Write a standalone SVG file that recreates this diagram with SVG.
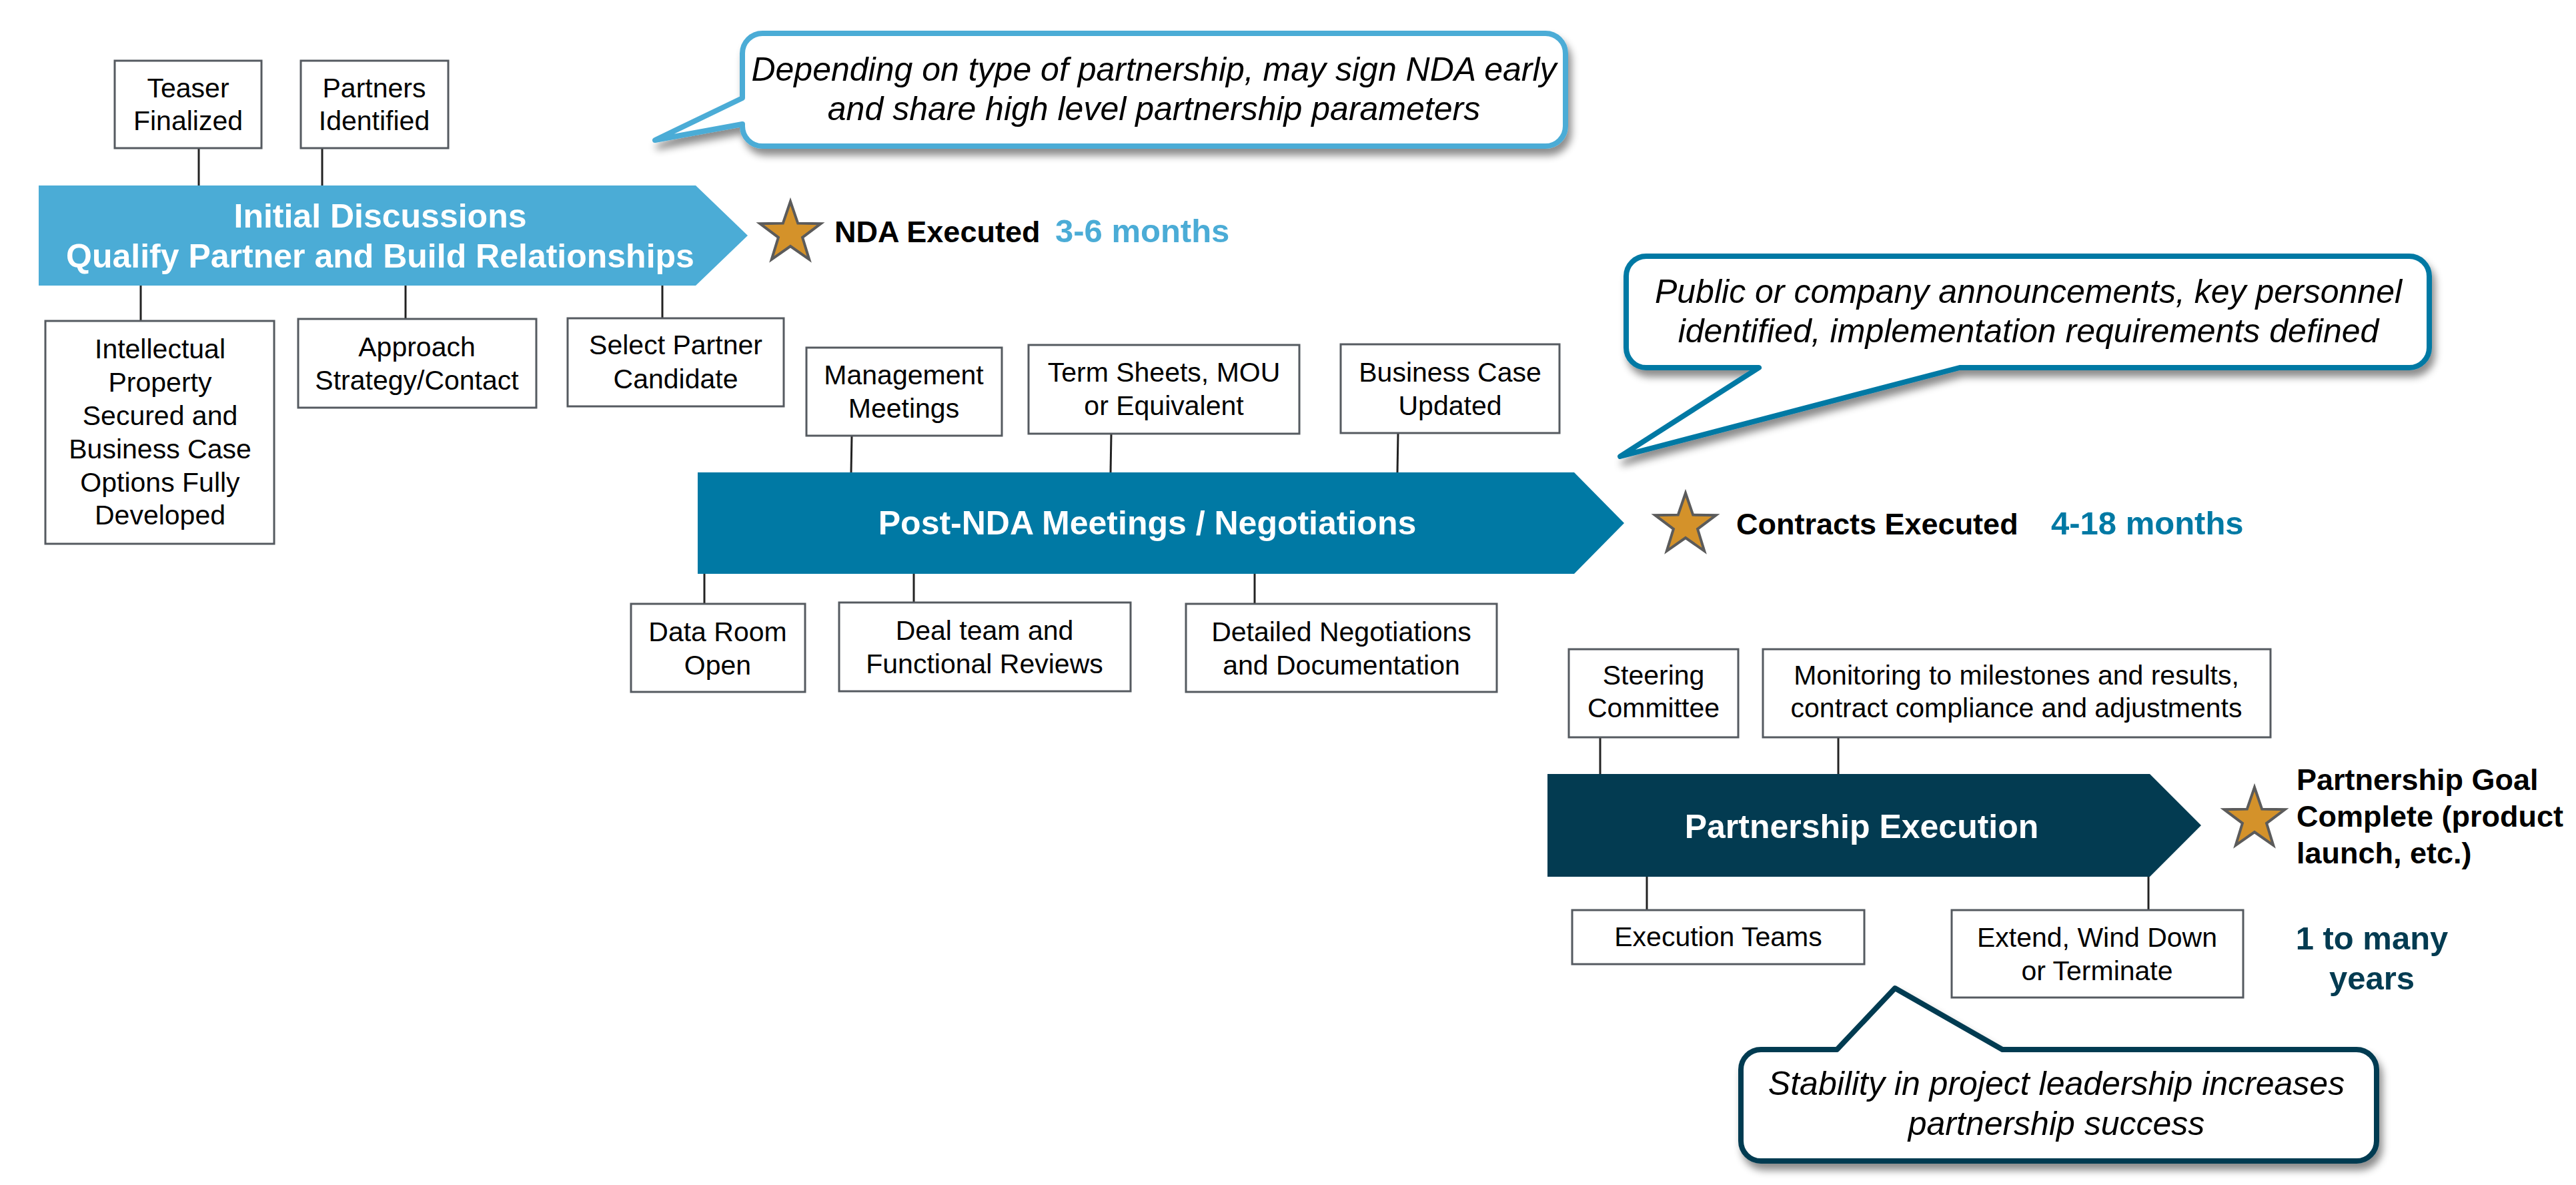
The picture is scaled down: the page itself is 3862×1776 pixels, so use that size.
<svg xmlns="http://www.w3.org/2000/svg" width="3862" height="1776" viewBox="0 0 3862 1776">
<style>
text{font-family:"Liberation Sans",Arial,sans-serif}
.box{fill:#fff;stroke:#555a60;stroke-width:3}
.bt{font-size:41px;fill:#000;text-anchor:middle}
.at{font-size:50px;font-weight:bold;fill:#fff;text-anchor:middle}
.ct{font-size:50px;font-style:italic;fill:#000;text-anchor:middle}
.ms{font-size:45px;font-weight:bold;fill:#000}
.dur{font-size:49px;font-weight:bold}
.conn line{stroke:#222;stroke-width:3}
.star{fill:#d4922a;stroke:#5b5b5b;stroke-width:4;stroke-linejoin:miter}
.call{fill:#fff;stroke-width:8;stroke-linejoin:round;filter:url(#sh)}
</style>
<defs>
<filter id="sh" x="-10%" y="-20%" width="125%" height="160%">
<feDropShadow dx="5" dy="10" stdDeviation="6" flood-color="#000" flood-opacity="0.45"/>
</filter>
<polygon id="starShape" points="0,-48 11.17,-15.37 45.65,-14.83 18.07,5.87 28.21,38.83 0,19 -28.21,38.83 -18.07,5.87 -45.65,-14.83 -11.17,-15.37"/>
</defs>

<g id="connectors" class="conn">
<line x1="298" y1="222" x2="298" y2="278"/>
<line x1="483" y1="222" x2="483" y2="278"/>
<line x1="211" y1="428" x2="211" y2="481"/>
<line x1="608" y1="428" x2="608" y2="478"/>
<line x1="993" y1="428" x2="993" y2="477"/>
<line x1="1277" y1="653" x2="1276" y2="708"/>
<line x1="1666" y1="650" x2="1665" y2="708"/>
<line x1="2096" y1="649" x2="2095" y2="708"/>
<line x1="1056" y1="860" x2="1056" y2="905"/>
<line x1="1370" y1="860" x2="1370" y2="903"/>
<line x1="1881" y1="860" x2="1881" y2="905"/>
<line x1="2399" y1="1105" x2="2399" y2="1160"/>
<line x1="2756" y1="1105" x2="2756" y2="1160"/>
<line x1="2469" y1="1314" x2="2469" y2="1364"/>
<line x1="3221" y1="1314" x2="3221" y2="1364"/>
</g>

<g id="stage1">
<polygon points="58,278 1043,278 1121,353 1043,428 58,428" fill="#4bacd6"/>
<text class="at" x="570" y="341">Initial Discussions</text>
<text class="at" x="570" y="401">Qualify Partner and Build Relationships</text>
</g>
<g id="stage2">
<polygon points="1046,708 2360,708 2435,784 2360,860 1046,860" fill="#0079a4"/>
<text class="at" x="1720" y="801">Post-NDA Meetings / Negotiations</text>
</g>
<g id="stage3">
<polygon points="2320,1160 3223,1160 3300,1237 3223,1314 2320,1314" fill="#033b51"/>
<text class="at" x="2791" y="1256">Partnership Execution</text>
</g>

<g id="teaser"><rect class="box" x="172" y="91" width="220" height="131"/><text class="bt" x="282" y="146">Teaser</text><text class="bt" x="282" y="195">Finalized</text></g>
<g id="partners"><rect class="box" x="451" y="91" width="221" height="131"/><text class="bt" x="561" y="146">Partners</text><text class="bt" x="561" y="195">Identified</text></g>
<g id="ip"><rect class="box" x="68" y="481" width="343" height="334"/>
<text class="bt" x="240" y="537">Intellectual</text><text class="bt" x="240" y="587">Property</text><text class="bt" x="240" y="637">Secured and</text><text class="bt" x="240" y="687">Business Case</text><text class="bt" x="240" y="737">Options Fully</text><text class="bt" x="240" y="786">Developed</text></g>
<g id="approach"><rect class="box" x="447" y="478" width="357" height="133"/><text class="bt" x="625" y="534">Approach</text><text class="bt" x="625" y="584">Strategy/Contact</text></g>
<g id="select"><rect class="box" x="851" y="477" width="324" height="132"/><text class="bt" x="1013" y="531">Select Partner</text><text class="bt" x="1013" y="582">Candidate</text></g>

<g id="mgmt"><rect class="box" x="1209" y="521" width="293" height="132"/><text class="bt" x="1355" y="576">Management</text><text class="bt" x="1355" y="626">Meetings</text></g>
<g id="term"><rect class="box" x="1542" y="517" width="406" height="133"/><text class="bt" x="1745" y="572">Term Sheets, MOU</text><text class="bt" x="1745" y="622">or Equivalent</text></g>
<g id="bizcase"><rect class="box" x="2010" y="516" width="328" height="133"/><text class="bt" x="2174" y="572">Business Case</text><text class="bt" x="2174" y="622">Updated</text></g>
<g id="dataroom"><rect class="box" x="946" y="905" width="261" height="132"/><text class="bt" x="1076" y="961">Data Room</text><text class="bt" x="1076" y="1011">Open</text></g>
<g id="deal"><rect class="box" x="1258" y="903" width="437" height="133"/><text class="bt" x="1476" y="959">Deal team and</text><text class="bt" x="1476" y="1009">Functional Reviews</text></g>
<g id="detailed"><rect class="box" x="1778" y="905" width="466" height="132"/><text class="bt" x="2011" y="961">Detailed Negotiations</text><text class="bt" x="2011" y="1011">and Documentation</text></g>

<g id="steering"><rect class="box" x="2352" y="973" width="254" height="132"/><text class="bt" x="2479" y="1026">Steering</text><text class="bt" x="2479" y="1075">Committee</text></g>
<g id="monitoring"><rect class="box" x="2643" y="973" width="761" height="132"/><text class="bt" x="3023" y="1026">Monitoring to milestones and results,</text><text class="bt" x="3023" y="1075">contract compliance and adjustments</text></g>
<g id="execteams"><rect class="box" x="2357" y="1364" width="438" height="81"/><text class="bt" x="2576" y="1418">Execution Teams</text></g>
<g id="extend"><rect class="box" x="2926" y="1364" width="437" height="131"/><text class="bt" x="3144" y="1419">Extend, Wind Down</text><text class="bt" x="3144" y="1469">or Terminate</text></g>

<g id="milestone1">
<use href="#starShape" class="star" transform="translate(1185,350)"/>
<text class="ms" x="1251" y="363">NDA Executed</text>
<text class="dur" x="1582" y="363" fill="#4bacd6">3-6 months</text>
</g>
<g id="milestone2">
<use href="#starShape" class="star" transform="translate(2527,787)"/>
<text class="ms" x="2603" y="801">Contracts Executed</text>
<text class="dur" x="3075" y="801" fill="#0079a4">4-18 months</text>
</g>
<g id="milestone3">
<use href="#starShape" class="star" transform="translate(3380,1228)"/>
<text class="ms" x="3443" y="1184">Partnership Goal</text>
<text class="ms" x="3443" y="1239">Complete (product</text>
<text class="ms" x="3443" y="1294">launch, etc.)</text>
<text class="dur" x="3556" y="1423" fill="#033b51" text-anchor="middle">1 to many</text>
<text class="dur" x="3556" y="1483" fill="#033b51" text-anchor="middle">years</text>
</g>

<g id="callout1">
<path class="call" stroke="#4bacd6" d="M1143,50 H2317 A30,30 0 0 1 2347,80 V189 A30,30 0 0 1 2317,219 H1143 A30,30 0 0 1 1113,189 V186 L982,210 L1113,147 V80 A30,30 0 0 1 1143,50 Z"/>
<text class="ct" x="1730" y="121">Depending on type of partnership, may sign NDA early</text>
<text class="ct" x="1730" y="180">and share high level partnership parameters</text>
</g>
<g id="callout2">
<path class="call" stroke="#0079a4" d="M2468,384 H3612 A30,30 0 0 1 3642,414 V521 A30,30 0 0 1 3612,551 H2938 L2429,684 L2637,551 H2468 A30,30 0 0 1 2438,521 V414 A30,30 0 0 1 2468,384 Z"/>
<text class="ct" x="3041" y="454">Public or company announcements, key personnel</text>
<text class="ct" x="3041" y="513">identified, implementation requirements defined</text>
</g>
<g id="callout3">
<path class="call" stroke="#033b51" d="M2640,1573 H2754 L2841,1481 L3002,1573 H3533 A30,30 0 0 1 3563,1603 V1710 A30,30 0 0 1 3533,1740 H2640 A30,30 0 0 1 2610,1710 V1603 A30,30 0 0 1 2640,1573 Z"/>
<text class="ct" x="3083" y="1641">Stability in project leadership increases</text>
<text class="ct" x="3083" y="1701">partnership success</text>
</g>
</svg>
